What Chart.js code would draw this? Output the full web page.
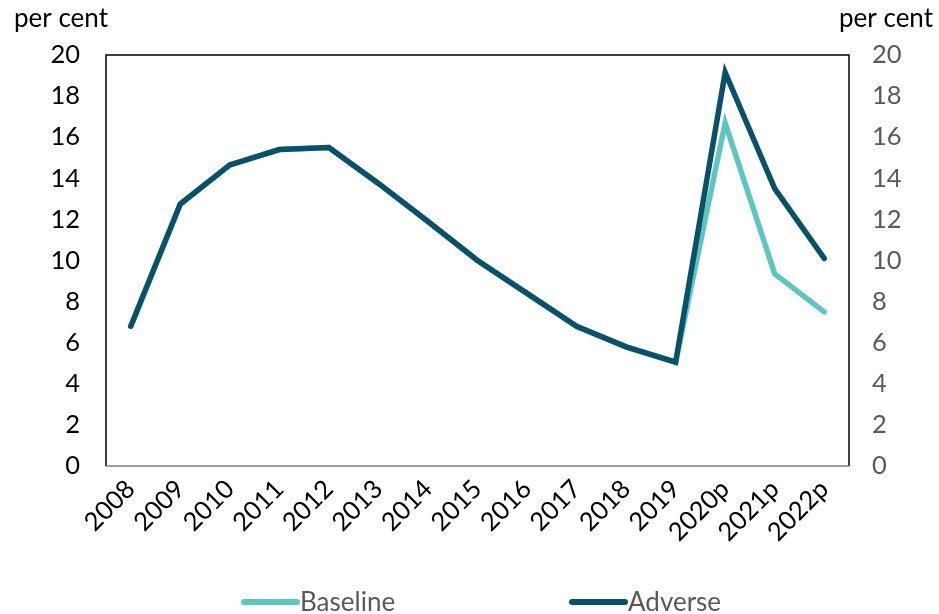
<!DOCTYPE html>
<html>
<head>
<meta charset="utf-8">
<script src="https://cdn.jsdelivr.net/npm/chart.js@4.4.0/dist/chart.umd.min.js"></script>
<style>
  html, body { margin: 0; padding: 0; background: #fff; }
  #wrap { width: 939px; height: 614px; position: relative; }
</style>
</head>
<body>
<div id="wrap"><canvas id="chart"></canvas></div>
<script>
// Categories and series
const years = ['2008', '2009', '2010', '2011', '2012', '2013', '2014', '2015',
               '2016', '2017', '2018', '2019', '2020p', '2021p', '2022p'];
const baseline = [6.8, 12.75, 14.65, 15.4, 15.5, 13.75, 11.9, 10.0, 8.4, 6.8, 5.8, 5.05, 16.7, 9.35, 7.5];
const adverse  = [6.8, 12.75, 14.65, 15.4, 15.5, 13.75, 11.9, 10.0, 8.4, 6.8, 5.8, 5.05, 19.15, 13.5, 10.1];
const yTicks = [0, 2, 4, 6, 8, 10, 12, 14, 16, 18, 20];

const FONT = 'Lato, "DejaVu Sans", sans-serif';
const DARK = '#0b5069';
const LIGHT = '#5dc6bf';

// frame around plot area, unit labels, and legend
const decorations = {
    id: 'decorations',
    afterDraw(chart) {
        const ctx = chart.ctx;
        const a = chart.chartArea;
        ctx.save();
        ctx.strokeStyle = '#000';
        ctx.lineWidth = 1.5;
        ctx.beginPath();
        ctx.moveTo(a.left, a.bottom);
        ctx.lineTo(a.left, a.top);
        ctx.lineTo(a.right, a.top);
        ctx.lineTo(a.right, a.bottom);
        ctx.stroke();
        ctx.strokeStyle = '#7f7f7f';
        ctx.beginPath();
        ctx.moveTo(a.left, a.bottom);
        ctx.lineTo(a.right, a.bottom);
        ctx.stroke();

        ctx.fillStyle = '#000';
        ctx.font = '26px ' + FONT;
        ctx.textBaseline = 'middle';
        ctx.textAlign = 'left';
        ctx.fillText('per cent', 14, 19);
        ctx.textAlign = 'right';
        ctx.fillText('per cent', 933, 19);

        // legend
        const items = [
            { label: 'Baseline', color: LIGHT, x: 244 },
            { label: 'Adverse', color: DARK, x: 572 }
        ];
        ctx.textAlign = 'left';
        ctx.fillStyle = '#595959';
        items.forEach(it => {
            ctx.strokeStyle = it.color;
            ctx.lineWidth = 6;
            ctx.lineCap = 'round';
            ctx.beginPath();
            ctx.moveTo(it.x, 602);
            ctx.lineTo(it.x + 53, 602);
            ctx.stroke();
            ctx.fillText(it.label, it.x + 56, 603);
        });
        ctx.restore();
    }
};

const ctx = document.getElementById('chart').getContext('2d');
new Chart(ctx, {
    type: 'line',
    data: {
        labels: years,
        datasets: [
            {
                label: 'Baseline',
                data: baseline,
                borderColor: LIGHT,
                backgroundColor: LIGHT,
                borderWidth: 5.5,
                borderCapStyle: 'round',
                pointRadius: 0,
                tension: 0,
                order: 1,
                yAxisID: 'y'
            },
            {
                label: 'Adverse',
                data: adverse,
                borderColor: DARK,
                backgroundColor: DARK,
                borderWidth: 5.5,
                borderCapStyle: 'round',
                pointRadius: 0,
                tension: 0,
                order: 0,
                yAxisID: 'y'
            }
        ]
    },
    options: {
        responsive: true,
        maintainAspectRatio: false,
        animation: false,
        layout: { padding: { top: 55, left: 0, right: 0, bottom: 0 } },
        plugins: { legend: { display: false }, tooltip: { enabled: false } },
        scales: {
            x: {
                offset: true,
                grid: { display: false, drawTicks: false },
                border: { display: false },
                ticks: {
                    color: '#000',
                    font: { family: FONT, size: 25.5 },
                    minRotation: 45,
                    maxRotation: 45,
                    padding: 8,
                    autoSkip: false
                },
                afterFit(scale) { scale.height = 148; }
            },
            y: {
                position: 'left',
                min: 0,
                max: 20,
                grid: { display: false, drawTicks: false },
                border: { display: false },
                afterBuildTicks(scale) { scale.ticks = yTicks.map(v => ({ value: v })); },
                ticks: {
                    color: '#000',
                    font: { family: FONT, size: 25.5 },
                    padding: 26
                },
                afterFit(scale) { scale.width = 106; }
            },
            y2: {
                position: 'right',
                min: 0,
                max: 20,
                grid: { display: false, drawTicks: false },
                border: { display: false },
                afterBuildTicks(scale) { scale.ticks = yTicks.map(v => ({ value: v })); },
                ticks: {
                    color: '#595959',
                    font: { family: FONT, size: 25.5 },
                    padding: 23
                },
                afterFit(scale) { scale.width = 90; }
            }
        }
    },
    plugins: [decorations]
});
</script>
</body>
</html>
